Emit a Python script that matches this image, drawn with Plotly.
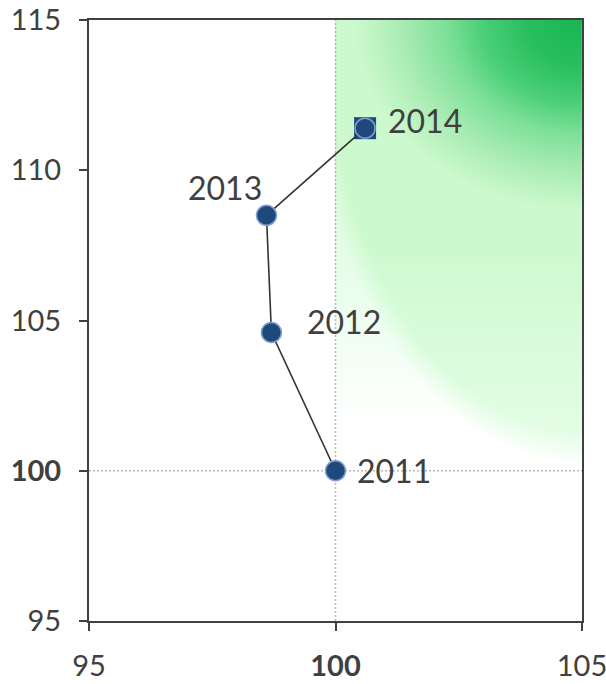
import numpy as np
import plotly.graph_objects as go

# Index values by year (base year 2011 = 100)
years = ["2011", "2012", "2013", "2014"]
x_index = [100.0, 98.7, 98.6, 100.6]
y_index = [100.0, 104.6, 108.5, 111.4]

# Axis ticks
x_ticks = [95, 100, 105]
x_ticktext = ["95", "<b>100</b>", "105"]
y_ticks = [95, 100, 105, 110, 115]
y_ticktext = ["95", "<b>100</b>", "105", "110", "115"]

X_RANGE = [95, 105]
Y_RANGE = [95, 115]
AXIS_COL = "#404040"
MARKER_COL = "#1f497d"

# Green "favourable" zone fading out from the upper-right corner
gx = np.linspace(100, 105, 201)
gy = np.linspace(100, 115, 451)
GX, GY = np.meshgrid(gx, gy)
dx = X_RANGE[1] - GX
dy = Y_RANGE[1] - GY
t_inner = np.sqrt((dx / 4.6) ** 2 + (dy / 6.3) ** 2)
t_outer = np.sqrt((dx / 5.4) ** 2 + (dy / 14.2) ** 2)
fade = (0.5 * np.clip((dy / 14.2 - 0.5) / 0.45, 0, 1)
        + 0.5 * np.clip((t_outer - 0.96) / 0.08, 0, 1))
shade = np.where(t_inner < 1, t_inner, 1 + fade) / 2.0

green_scale = [
    [0.00, "rgb(24,182,82)"],
    [0.12, "rgb(40,190,95)"],
    [0.22, "rgb(75,207,120)"],
    [0.30, "rgb(125,224,152)"],
    [0.40, "rgb(170,236,180)"],
    [0.50, "rgb(204,249,205)"],
    [0.75, "rgb(226,253,228)"],
    [0.88, "rgb(240,254,241)"],
    [1.00, "rgb(255,255,255)"],
]

fig = go.Figure()

fig.add_trace(go.Heatmap(
    x=gx, y=gy, z=shade, zmin=0, zmax=1,
    colorscale=green_scale, zsmooth="best",
    showscale=False, hoverinfo="skip",
))

# Dotted reference lines through the base value 100
fig.add_trace(go.Scatter(
    x=[100, 100], y=Y_RANGE, mode="lines",
    line=dict(color="#b8b8b8", width=1.5, dash="2px,2px"),
    hoverinfo="skip", showlegend=False,
))
fig.add_trace(go.Scatter(
    x=X_RANGE, y=[100, 100], mode="lines",
    line=dict(color="#b8b8b8", width=1.5, dash="2px,2px"),
    hoverinfo="skip", showlegend=False,
))

# Square highlight behind the latest year
fig.add_trace(go.Scatter(
    x=x_index[-1:], y=y_index[-1:], mode="markers",
    marker=dict(symbol="square", size=22, color=MARKER_COL, line=dict(width=0)),
    hoverinfo="skip", showlegend=False,
))

# Path through the years
fig.add_trace(go.Scatter(
    x=x_index, y=y_index, mode="lines+markers",
    line=dict(color="#333333", width=1.6),
    marker=dict(size=20, color=MARKER_COL, line=dict(color="#7f9fd0", width=1.5)),
    text=years, hoverinfo="text", showlegend=False,
))

# Year labels
label_shift = {
    "2011": (58, 0),
    "2012": (73, 11),
    "2013": (-41, 28),
    "2014": (60, 8),
}
for yr, xv, yv in zip(years, x_index, y_index):
    sx, sy = label_shift[yr]
    fig.add_annotation(
        x=xv, y=yv, text=yr, showarrow=False,
        xshift=sx, yshift=sy,
        font=dict(family="Lato", size=32, color=AXIS_COL),
    )

axis_common = dict(
    showgrid=False, zeroline=False, automargin=False,
    showline=True, linecolor=AXIS_COL, linewidth=2, mirror=True,
    ticks="outside", ticklen=8, tickwidth=2, tickcolor=AXIS_COL,
    tickfont=dict(family="Lato", size=29, color=AXIS_COL),
    ticklabeloverflow="allow",
    fixedrange=True,
)

fig.update_layout(
    width=606, height=684,
    margin=dict(l=89, r=24, t=20, b=63),
    paper_bgcolor="white", plot_bgcolor="white",
    showlegend=False,
    xaxis=dict(range=X_RANGE, tickvals=x_ticks, ticktext=x_ticktext,
               ticklabelstandoff=10, **axis_common),
    yaxis=dict(range=Y_RANGE, tickvals=y_ticks, ticktext=y_ticktext,
               ticklabelstandoff=12, **axis_common),
)

fig.write_html("out.html")
